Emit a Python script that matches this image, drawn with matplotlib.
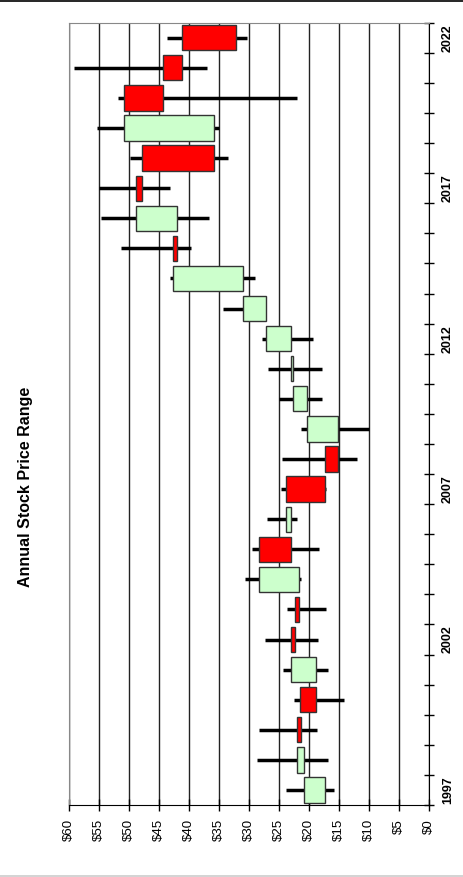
import numpy as np
import matplotlib.pyplot as plt
from matplotlib.lines import Line2D

plt.rcParams['font.family'] = ['Liberation Sans', 'DejaVu Sans']

years = np.arange(1997, 2023)
opens = [17.3, 20.9, 22.0, 21.5, 18.9, 23.0, 22.4, 21.7, 28.4, 23.0, 23.9, 17.4, 15.2,
         20.4, 22.7, 23.05, 27.2, 31.0, 42.6, 42.05, 48.9, 47.8, 35.8, 50.8, 44.3, 41.2]
closes = [20.9, 22.0, 21.4, 18.9, 23.0, 22.4, 21.7, 28.4, 23.0, 23.9, 17.4, 15.2, 20.4,
          22.7, 23.05, 27.2, 31.0, 42.6, 42.05, 48.9, 47.8, 35.8, 50.8, 44.3, 41.2, 32.2]
highs = [23.8, 28.7, 28.3, 22.5, 24.4, 27.3, 23.7, 30.7, 29.55, 27.0, 24.7, 24.55, 21.4,
         25.1, 26.9, 27.8, 34.3, 43.1, 51.3, 54.7, 55.0, 49.9, 55.4, 51.8, 59.1, 43.6]
lows = [15.8, 16.9, 18.7, 14.2, 16.9, 18.6, 17.2, 21.3, 18.3, 22.0, 17.2, 12.1, 10.0,
        17.9, 17.8, 19.3, 27.2, 29.0, 39.6, 36.7, 43.2, 33.5, 35.0, 22.1, 37.1, 30.3]
label_years = [1997, 2002, 2007, 2012, 2017, 2022]
price_ticks = np.arange(0, 61, 5)

opens = np.array(opens)
closes = np.array(closes)
colors = ['#CCFFCC' if c >= o else '#FF0000' for o, c in zip(opens, closes)]

fig = plt.figure(figsize=(4.63, 8.77), dpi=100)
ax = fig.add_axes([0.149, 0.0821, 0.7782, 0.892])

# high-low whiskers behind the open-close boxes
ax.hlines(years, lows, highs, color='black', lw=2.5, zorder=2)
ax.barh(years, np.abs(closes - opens), left=np.minimum(opens, closes), height=0.84,
        color=colors, edgecolor='#333333', lw=1, zorder=3)

ax.set_xlim(60, 0)
ax.set_ylim(1996.5, 2022.5)
ax.set_xticks(price_ticks)
ax.set_xticklabels(['$%d' % v for v in price_ticks], rotation=90, fontsize=9.5)
ax.grid(axis='x', color='#222222', lw=1, zorder=1)
ax.set_axisbelow(True)

ax.yaxis.tick_right()
ax.set_yticks(label_years)
ax.set_yticklabels([str(y) for y in label_years], rotation=90, va='center',
                   fontsize=9, fontweight='bold')
ax.set_yticks(np.arange(1996.5, 2023, 1), minor=True)
ax.tick_params(axis='y', which='major', length=0, pad=9)
ax.tick_params(axis='y', which='minor', length=7, direction='inout', width=1)
ax.tick_params(axis='x', length=8, direction='inout', width=1, pad=6)

ax.spines['left'].set_color('#888888')
ax.spines['top'].set_color('#888888')
ax.spines['right'].set_color('black')
ax.spines['bottom'].set_color('black')

fig.text(0.054, 0.4447, 'Annual Stock Price Range', rotation=90, ha='center', va='center',
         fontsize=11.5, fontweight='bold')

fig.add_artist(Line2D([0, 1], [0.9985, 0.9985], color='black', lw=1.2))
fig.add_artist(Line2D([0, 1], [0.0015, 0.0015], color='#cccccc', lw=1.2))

fig.savefig('out.png', dpi=100)
